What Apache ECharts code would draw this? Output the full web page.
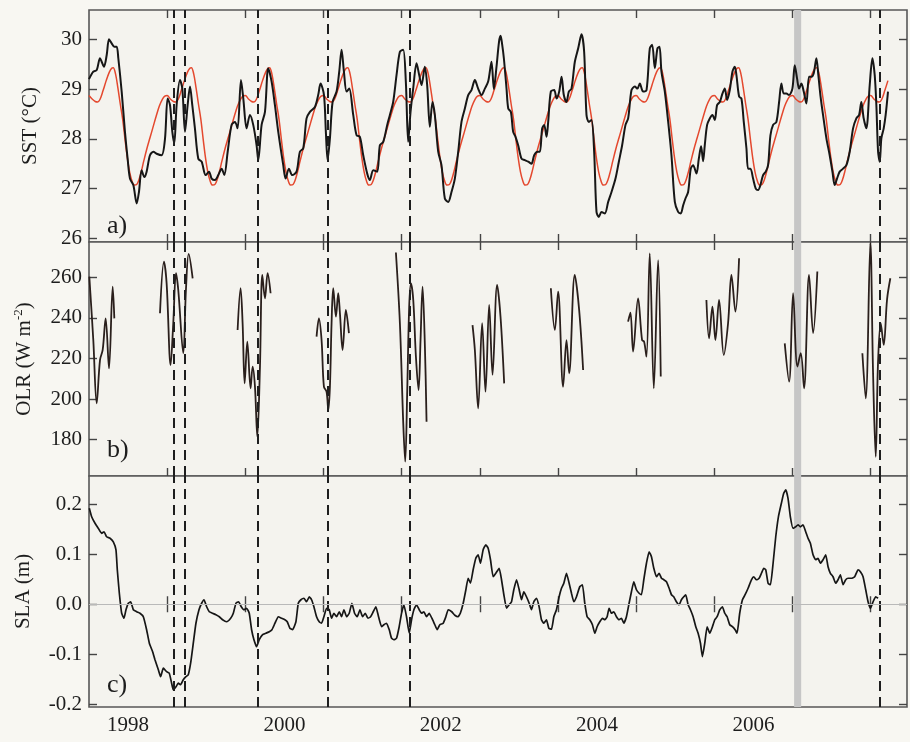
<!DOCTYPE html>
<html><head><meta charset="utf-8">
<script src="https://cdn.jsdelivr.net/npm/echarts@6/dist/echarts.min.js"></script>
<style>html,body{margin:0;padding:0;background:#f8f7f2}#c{width:910px;height:742px}</style>
</head><body><div id="c"></div>
<script>
// ---------- tick labels / axis values ----------
const yearTicks = [1999, 2000, 2001, 2002, 2003, 2004, 2005, 2006, 2007, 2008];
const yearLabelPos = [1998.5, 2000.5, 2002.5, 2004.5, 2006.5];
const sstTicks = [26, 27, 28, 29, 30];
const olrTicks = [180, 200, 220, 240, 260];
const slaTicks = [-0.2, -0.1, 0.0, 0.1, 0.2];
const eventLines = [1999.078, 1999.228, 2000.157, 2001.052, 2002.096, 2008.115];
const grayBand = [2007.02, 2007.11];

// ---------- SST (black, observed) ----------
const sstYears = [1998.000,1998.055,1998.098,1998.141,1998.162,1998.192,1998.226,1998.256,1998.290,1998.324,1998.354,1998.375,1998.418,1998.460,1998.494,1998.524,1998.567,1998.610,1998.639,1998.673,1998.708,1998.737,1998.780,1998.823,1998.865,1998.929,1998.972,
1999.006,1999.036,1999.066,1999.091,1999.121,1999.164,1999.194,1999.228,1999.262,1999.292,1999.321,1999.355,1999.398,1999.441,1999.492,1999.535,1999.569,1999.611,1999.654,1999.697,1999.731,1999.774,1999.824,1999.867,1999.901,1999.944,1999.974,
2000.016,2000.059,2000.101,2000.144,2000.165,2000.208,2000.251,2000.293,2000.336,2000.378,2000.421,2000.485,2000.515,2000.557,2000.600,2000.655,2000.698,2000.741,2000.783,2000.826,2000.890,2000.932,2000.962,
2001.006,2001.030,2001.052,2001.082,2001.116,2001.167,2001.201,2001.231,2001.261,2001.295,2001.329,2001.380,2001.423,2001.465,2001.508,2001.559,2001.593,2001.636,2001.687,2001.721,2001.764,2001.815,2001.849,2001.891,2001.934,2001.977,
2002.019,2002.053,2002.083,2002.113,2002.147,2002.190,2002.224,2002.254,2002.296,2002.326,2002.360,2002.394,2002.424,2002.467,2002.509,2002.552,2002.595,2002.637,2002.680,2002.723,2002.765,2002.808,2002.851,2002.893,2002.936,2002.978,
2003.021,2003.064,2003.106,2003.149,2003.179,2003.213,2003.245,2003.265,2003.285,2003.307,2003.341,2003.363,2003.397,2003.426,2003.456,2003.490,2003.533,2003.576,2003.618,2003.661,2003.695,2003.738,2003.767,2003.797,2003.823,2003.853,2003.874,2003.908,2003.951,2003.981,
2004.015,2004.045,2004.074,2004.108,2004.138,2004.172,2004.215,2004.258,2004.300,2004.334,2004.364,2004.394,2004.428,2004.462,2004.492,2004.522,2004.556,2004.599,2004.641,2004.684,2004.735,2004.778,2004.820,2004.863,2004.897,2004.940,2004.982,
2005.016,2005.046,2005.089,2005.132,2005.174,2005.204,2005.238,2005.272,2005.298,2005.323,2005.366,2005.409,2005.451,2005.494,2005.536,2005.570,2005.600,2005.630,2005.664,2005.698,2005.728,2005.771,2005.801,2005.830,2005.856,2005.877,2005.907,2005.941,2005.975,
2006.005,2006.035,2006.069,2006.103,2006.133,2006.163,2006.197,2006.231,2006.261,2006.282,2006.316,2006.346,2006.376,2006.410,2006.431,2006.461,2006.495,2006.529,2006.559,2006.589,2006.623,2006.657,2006.687,2006.717,2006.751,2006.793,2006.828,2006.857,2006.887,2006.921,2006.955,2006.998,
2007.028,2007.058,2007.083,2007.113,2007.143,2007.177,2007.211,2007.241,2007.271,2007.305,2007.330,2007.356,2007.390,2007.433,2007.475,2007.510,2007.539,2007.569,2007.603,2007.646,2007.689,2007.731,2007.774,2007.816,2007.851,2007.880,2007.910,2007.944,2007.987,
2008.021,2008.051,2008.072,2008.094,2008.115,2008.136,2008.166,2008.191,2008.221];
const sstValues = [29.20,29.35,29.38,29.62,29.55,29.45,29.68,30.00,29.92,29.85,29.85,29.62,28.95,28.14,27.60,27.20,27.07,26.70,26.93,27.37,27.23,27.34,27.67,27.74,27.70,27.67,28.00,
28.81,28.68,28.14,27.91,28.68,29.18,29.01,28.14,28.68,29.05,28.68,28.21,27.60,27.54,27.27,27.34,27.20,27.17,27.27,27.40,27.27,27.74,28.28,28.34,28.21,29.18,28.81,
28.21,28.48,28.28,27.87,27.57,28.28,28.54,29.42,29.15,28.68,28.14,27.47,27.20,27.40,27.27,27.34,27.74,27.81,28.41,28.54,28.64,28.88,29.11,
28.88,28.14,27.57,28.01,28.74,28.95,29.35,29.79,29.35,28.95,29.01,28.48,28.07,28.04,27.67,27.30,27.17,27.37,27.34,27.87,27.94,28.28,28.48,28.74,29.28,29.75,
29.79,29.15,27.94,28.54,29.01,29.52,29.28,29.08,29.45,29.08,28.24,28.74,28.48,27.74,27.47,26.80,26.73,26.93,27.20,27.74,28.34,28.61,28.88,28.98,29.18,29.01,
28.88,29.01,29.15,29.55,29.00,29.45,29.95,30.07,29.90,29.62,29.01,28.61,28.54,28.14,28.04,27.87,27.60,27.57,27.54,27.50,27.67,27.74,27.74,28.21,28.28,28.04,28.34,28.95,28.98,28.81,
28.95,29.25,28.88,28.74,28.95,29.01,29.55,29.82,30.10,29.75,28.48,28.34,28.38,27.74,26.53,26.43,26.53,26.50,26.73,26.93,27.20,27.54,27.87,28.28,28.41,28.98,29.05,
29.01,29.11,28.95,28.98,29.82,29.89,29.42,29.82,29.85,29.35,28.95,28.34,27.67,26.73,26.53,26.50,26.66,26.80,26.93,27.40,27.47,27.30,27.60,27.85,27.55,27.87,28.28,28.41,28.48,
28.38,28.68,28.74,28.91,29.01,28.78,28.98,29.35,29.45,29.28,28.85,28.81,28.34,27.81,27.40,27.40,27.20,27.00,26.97,27.07,27.27,27.34,27.47,28.07,28.28,28.34,28.74,29.11,28.91,28.91,28.88,29.01,
29.48,29.21,29.01,29.11,28.95,28.71,29.25,29.25,29.32,29.62,29.28,28.88,28.48,28.01,27.67,27.34,27.07,27.20,27.34,27.40,27.47,27.74,28.21,28.41,28.48,28.74,28.41,28.21,29.08,
29.62,29.28,28.68,27.74,27.54,28.01,28.21,28.48,28.95];

// ---------- SST climatology (red), one annual cycle ----------
const climFrac   = [0.00,0.04,0.08,0.11,0.14,0.18,0.22,0.26,0.29,0.31,0.34,0.37,0.40,0.43,0.46,0.49,0.52,0.55,0.58,0.61,0.64,0.67,0.70,0.74,0.78,0.82,0.86,0.90,0.94,0.97];
const climValues = [28.87,28.80,28.75,28.74,28.79,28.97,29.17,29.34,29.42,29.43,29.30,29.02,28.70,28.40,28.00,27.62,27.33,27.15,27.07,27.08,27.18,27.35,27.55,27.80,28.02,28.24,28.46,28.66,28.80,28.86];
const climYears  = [1998,1999,2000,2001,2002,2003,2004,2005,2006,2007,2008];
const climEnd = 2008.22;

// ---------- OLR (null = gap) ----------
const olrYears = [1998.004,1998.055,1998.098,1998.141,1998.175,1998.213,1998.256,1998.303,1998.324,1998.6,
1998.908,1998.959,1998.993,1999.044,1999.078,1999.113,1999.142,1999.206,1999.240,1999.275,1999.326,1999.6,
1999.901,1999.939,1999.965,1999.991,2000.025,2000.067,2000.093,2000.123,2000.153,2000.187,2000.217,2000.251,2000.285,2000.323,2000.6,
2000.911,2000.941,2000.975,2001.005,2001.039,2001.061,2001.082,2001.103,2001.124,2001.159,2001.188,2001.210,2001.244,2001.286,2001.325,2001.6,
2001.926,2001.977,2002.020,2002.045,2002.071,2002.096,2002.118,2002.148,2002.182,2002.216,2002.241,2002.267,2002.297,2002.318,2002.6,
2002.906,2002.936,2002.978,2003.029,2003.072,2003.119,2003.162,2003.221,2003.264,2003.311,2003.6,
2003.908,2003.959,2004.001,2004.065,2004.108,2004.142,2004.214,2004.270,2004.321,2004.6,
2004.896,2004.926,2004.960,2005.024,2005.075,2005.101,2005.131,2005.173,2005.225,2005.280,2005.314,2005.6,
2005.898,2005.932,2005.975,2006.013,2006.060,2006.120,2006.175,2006.218,2006.269,2006.316,2006.6,
2006.900,2006.956,2007.007,2007.062,2007.105,2007.147,2007.211,2007.263,2007.317,2007.6,
2007.893,2007.936,2007.995,2008.030,2008.064,2008.093,2008.128,2008.166,2008.209,2008.251];
const olrValues = [260.4,229.1,197.9,219.3,224.2,239.8,215.1,255.5,239.8,null,
242.3,267.8,257.1,216.8,237.4,262.1,253.8,222.6,253.8,271.6,259.6,null,
234.1,254.7,237.4,207.7,228.3,205.3,216.0,206.1,181.4,216.0,261.2,249.7,262.1,252.2,null,
230.8,239.8,229.1,206.1,203.6,194.6,206.1,237.4,254.7,240.7,252.2,242.3,224.2,244.0,232.5,null,
272.3,237.4,188.0,169.1,204.4,245.6,257.1,248.9,220.9,204.4,229.1,255.5,225.8,188.8,null,
236.5,224.2,195.4,237.4,203.6,246.4,211.9,256.3,240.7,207.7,null,
254.7,234.1,253.0,206.1,229.1,212.7,261.2,244.0,214.3,null,
238.2,242.6,223.4,249.7,229.1,228.3,220.9,271.9,205.3,268.6,211.1,null,
248.9,230.0,245.6,229.1,248.9,221.7,237.4,261.2,243.1,269.5,null,
227.5,208.6,252.2,216.0,222.6,205.3,261.2,232.5,262.9,null,
222.6,200.3,276.9,212.7,171.5,217.6,237.4,226.7,249.2,259.6];

// ---------- SLA ----------
const slaYears = [1998.004,1998.034,1998.077,1998.119,1998.162,1998.192,1998.226,1998.269,1998.311,1998.345,1998.362,1998.388,1998.418,1998.448,1998.473,1998.503,1998.533,1998.567,1998.610,1998.652,1998.695,1998.737,1998.772,1998.814,1998.844,1998.887,1998.916,1998.951,1998.993,
1999.027,1999.057,1999.078,1999.113,1999.142,1999.172,1999.206,1999.240,1999.270,1999.300,1999.334,1999.368,1999.407,1999.441,1999.471,1999.505,1999.539,1999.581,1999.624,1999.667,1999.709,1999.760,1999.812,1999.846,1999.880,1999.914,1999.948,1999.982,
2000.016,2000.050,2000.080,2000.110,2000.144,2000.178,2000.221,2000.263,2000.306,2000.340,2000.379,2000.421,2000.464,2000.506,2000.536,2000.570,2000.604,2000.647,2000.677,2000.711,2000.749,2000.783,2000.818,2000.847,2000.877,2000.911,2000.945,2000.975,
2001.005,2001.039,2001.073,2001.103,2001.133,2001.167,2001.201,2001.231,2001.261,2001.295,2001.329,2001.363,2001.397,2001.431,2001.466,2001.500,2001.534,2001.568,2001.602,2001.636,2001.670,2001.704,2001.743,2001.772,2001.806,2001.841,2001.870,2001.900,2001.934,2001.968,2001.998,
2002.028,2002.062,2002.096,2002.126,2002.156,2002.190,2002.224,2002.254,2002.284,2002.318,2002.352,2002.386,2002.424,2002.454,2002.488,2002.531,2002.565,2002.595,2002.640,2002.680,2002.720,2002.750,2002.787,2002.821,2002.850,2002.880,2002.914,2002.948,2002.978,
2003.008,2003.042,2003.076,2003.106,2003.136,2003.170,2003.204,2003.247,2003.277,2003.307,2003.341,2003.375,2003.405,2003.434,2003.469,2003.503,2003.533,2003.562,2003.596,2003.631,2003.660,2003.690,2003.724,2003.758,2003.788,2003.818,2003.852,2003.882,2003.916,2003.946,2003.980,
2004.014,2004.044,2004.074,2004.108,2004.142,2004.172,2004.202,2004.236,2004.278,2004.312,2004.342,2004.372,2004.406,2004.440,2004.470,2004.500,2004.534,2004.568,2004.598,2004.628,2004.653,2004.683,2004.713,2004.747,2004.781,2004.811,2004.841,2004.875,2004.909,2004.939,2004.969,
2005.003,2005.037,2005.067,2005.097,2005.131,2005.165,2005.195,2005.225,2005.259,2005.293,2005.323,2005.353,2005.387,2005.421,2005.451,2005.480,2005.514,2005.549,2005.578,2005.608,2005.634,2005.664,2005.694,2005.728,2005.762,2005.792,2005.822,2005.847,2005.877,2005.907,2005.941,2005.975,
2006.005,2006.035,2006.069,2006.103,2006.133,2006.163,2006.197,2006.231,2006.265,2006.290,2006.324,2006.359,2006.393,2006.431,2006.474,2006.504,2006.538,2006.572,2006.602,2006.632,2006.657,2006.687,2006.717,2006.751,2006.785,2006.819,2006.857,2006.887,2006.913,2006.942,2006.972,
2007.006,2007.040,2007.070,2007.100,2007.134,2007.168,2007.198,2007.228,2007.262,2007.296,2007.326,2007.356,2007.390,2007.424,2007.454,2007.484,2007.518,2007.552,2007.582,2007.612,2007.646,2007.680,2007.710,2007.752,2007.795,2007.838,2007.868,2007.902,2007.936,2007.966,2007.996,
2008.030,2008.064,2008.094];
const slaValues = [0.192,0.175,0.162,0.152,0.142,0.145,0.135,0.132,0.125,0.109,0.069,0.022,-0.018,-0.028,-0.011,0.002,0.005,-0.011,-0.015,-0.018,-0.025,-0.051,-0.078,-0.095,-0.111,-0.131,-0.145,-0.128,-0.135,
-0.138,-0.158,-0.171,-0.165,-0.158,-0.161,-0.151,-0.145,-0.141,-0.118,-0.078,-0.038,-0.011,0.002,0.009,-0.005,-0.015,-0.018,-0.021,-0.025,-0.031,-0.035,-0.028,-0.018,0.002,0.005,-0.005,-0.011,
-0.008,-0.018,-0.051,-0.071,-0.085,-0.071,-0.061,-0.058,-0.055,-0.051,-0.038,-0.025,-0.028,-0.031,-0.035,-0.048,-0.051,-0.035,0.002,0.009,0.012,0.005,0.015,0.009,-0.005,-0.025,-0.035,-0.038,
-0.025,-0.008,-0.011,-0.028,-0.018,-0.025,-0.015,-0.025,-0.011,-0.025,-0.018,0.002,-0.018,-0.025,-0.011,-0.025,-0.018,-0.028,-0.025,-0.015,-0.005,-0.025,-0.045,-0.041,-0.038,-0.051,-0.068,-0.071,-0.068,-0.045,-0.018,
-0.001,-0.025,-0.058,-0.031,-0.011,-0.001,-0.011,-0.018,-0.015,-0.025,-0.018,-0.028,-0.041,-0.051,-0.041,-0.038,-0.025,-0.011,-0.015,-0.022,-0.025,-0.018,0.002,0.029,0.052,0.042,0.069,0.092,0.099,
0.082,0.109,0.119,0.112,0.089,0.055,0.062,0.072,0.049,0.019,-0.008,-0.001,0.005,0.029,0.049,0.029,0.009,0.025,0.015,0.002,-0.011,0.005,0.012,-0.005,-0.031,-0.038,-0.031,-0.048,-0.050,-0.025,-0.011,
0.015,0.032,0.042,0.062,0.042,0.022,0.005,0.015,0.035,0.039,0.002,-0.025,-0.031,-0.041,-0.058,-0.045,-0.035,-0.028,-0.031,-0.025,-0.008,-0.018,-0.015,-0.025,-0.031,-0.028,-0.038,-0.025,0.002,0.025,0.045,
0.029,0.022,0.019,0.049,0.082,0.105,0.095,0.072,0.055,0.062,0.052,0.049,0.045,0.032,0.019,0.015,0.005,-0.001,0.009,0.015,0.019,-0.001,-0.011,-0.025,-0.045,-0.058,-0.078,-0.105,-0.078,-0.045,-0.058,-0.045,
-0.031,-0.025,-0.011,-0.005,-0.018,-0.025,-0.041,-0.045,-0.051,-0.058,-0.018,0.009,0.019,0.032,0.049,0.055,0.049,0.052,0.062,0.072,0.069,0.042,0.039,0.082,0.135,0.175,0.202,0.222,0.229,0.212,0.175,
0.152,0.155,0.159,0.155,0.159,0.145,0.132,0.122,0.099,0.089,0.092,0.082,0.089,0.099,0.075,0.062,0.055,0.042,0.049,0.059,0.039,0.049,0.052,0.052,0.055,0.069,0.065,0.055,0.029,0.005,-0.008,
0.005,0.015,0.012];

// ---------- build ----------
const zip = (xs, ys) => xs.map((x, i) => [x, ys[i]]);
const climData = [];
climYears.forEach(y => climFrac.forEach((f, i) => { const t = +(y + f).toFixed(3); if (t <= climEnd) climData.push([t, climValues[i]]); }));

const FONT = 'Liberation Serif';
const TXT = '#1d1d1d';
const X_MIN = 1998, X_MAX = 2008.464;
const gridsPos = [{top: 10, height: 232}, {top: 242, height: 234}, {top: 476, height: 231}];
const yRanges = [[25.925, 30.59], [162.0, 277.5], [-0.2056, 0.2566]];
const yTicks = [sstTicks, olrTicks, slaTicks];
const tickStyle = {color: '#444', width: 1.4};

const grids = gridsPos.map(g => ({left: 89, width: 818, top: g.top, height: g.height, show: true,
  borderColor: '#575757', borderWidth: 1.6, backgroundColor: '#f4f3ee'}));

const xAxes = [], yAxes = [];
for (let i = 0; i < 3; i++) {
  ['bottom', 'top'].forEach(pos => xAxes.push({
    gridIndex: i, type: 'value', position: pos, min: X_MIN, max: X_MAX,
    axisLine: {show: false}, splitLine: {show: false},
    axisTick: {show: true, inside: true, length: 8, customValues: yearTicks, lineStyle: tickStyle},
    axisLabel: (i === 2 && pos === 'bottom') ? {show: true, customValues: yearLabelPos, margin: 8,
      formatter: v => String(Math.floor(v)), fontFamily: FONT, fontSize: 21, color: TXT} : {show: false}
  }));
  ['left', 'right'].forEach(pos => yAxes.push({
    gridIndex: i, type: 'value', position: pos, min: yRanges[i][0], max: yRanges[i][1],
    axisLine: {show: false}, splitLine: {show: false},
    axisTick: {show: true, inside: true, length: 8, customValues: yTicks[i], lineStyle: tickStyle},
    axisLabel: pos === 'left' ? {show: true, customValues: yTicks[i], margin: 7,
      formatter: v => i === 2 ? v.toFixed(1) : String(v), fontFamily: FONT, fontSize: 21, color: TXT} : {show: false}
  }));
}
const nameStyle = {fontFamily: FONT, fontSize: 21, color: TXT};
Object.assign(yAxes[0], {name: 'SST (°C)', nameLocation: 'middle', nameRotate: 90, nameGap: 48, nameTextStyle: nameStyle});
Object.assign(yAxes[2], {name: 'OLR (W m{sup|-2})', nameLocation: 'middle', nameRotate: 90, nameGap: 52,
  nameTextStyle: Object.assign({}, nameStyle, {rich: {sup: {fontFamily: FONT, fontSize: 13, color: TXT, verticalAlign: 'top', padding: [0, 0, 12, 0]}}})});
Object.assign(yAxes[4], {name: 'SLA (m)', nameLocation: 'middle', nameRotate: 90, nameGap: 55, nameTextStyle: nameStyle});

const dashLines = (extra) => ({silent: true, symbol: ['none', 'none'], label: {show: false},
  lineStyle: {color: '#1e1e1e', type: [10, 6], width: 2}, emphasis: {disabled: true},
  data: eventLines.map(x => ({xAxis: x})).concat(extra || [])});
const band = () => ({silent: true, itemStyle: {color: '#c6c6c6'}, label: {show: false},
  data: [[{xAxis: grayBand[0]}, {xAxis: grayBand[1]}]]});

const series = [
  {type: 'line', xAxisIndex: 0, yAxisIndex: 0, data: climData, showSymbol: false, smooth: 0.35,
    lineStyle: {color: '#e4482e', width: 1.5}, z: 3},
  {type: 'line', xAxisIndex: 0, yAxisIndex: 0, data: zip(sstYears, sstValues), showSymbol: false, smooth: 0.3,
    lineStyle: {color: '#161616', width: 2}, z: 4, markLine: dashLines(), markArea: band()},
  {type: 'line', xAxisIndex: 2, yAxisIndex: 2, data: zip(olrYears, olrValues), showSymbol: false, smooth: 0.35,
    connectNulls: false, lineStyle: {color: '#2a1f1c', width: 1.8}, markLine: dashLines(), markArea: band()},
  {type: 'line', xAxisIndex: 4, yAxisIndex: 4, data: zip(slaYears, slaValues), showSymbol: false, smooth: 0.15,
    lineStyle: {color: '#161616', width: 1.7}, markArea: band(),
    markLine: dashLines([{yAxis: 0, lineStyle: {color: '#b9b9b9', type: 'solid', width: 1}}])}
];

const panelLabel = (t, y) => ({type: 'text', left: 107, top: y, silent: true,
  style: {text: t, font: '26px "Liberation Serif"', fill: TXT}});

const chart = echarts.init(document.getElementById('c'));
chart.setOption({
  animation: false, backgroundColor: '#f8f7f2',
  grid: grids, xAxis: xAxes, yAxis: yAxes, series: series,
  graphic: [panelLabel('a)', 213), panelLabel('b)', 437), panelLabel('c)', 672)]
});
</script></body></html>
